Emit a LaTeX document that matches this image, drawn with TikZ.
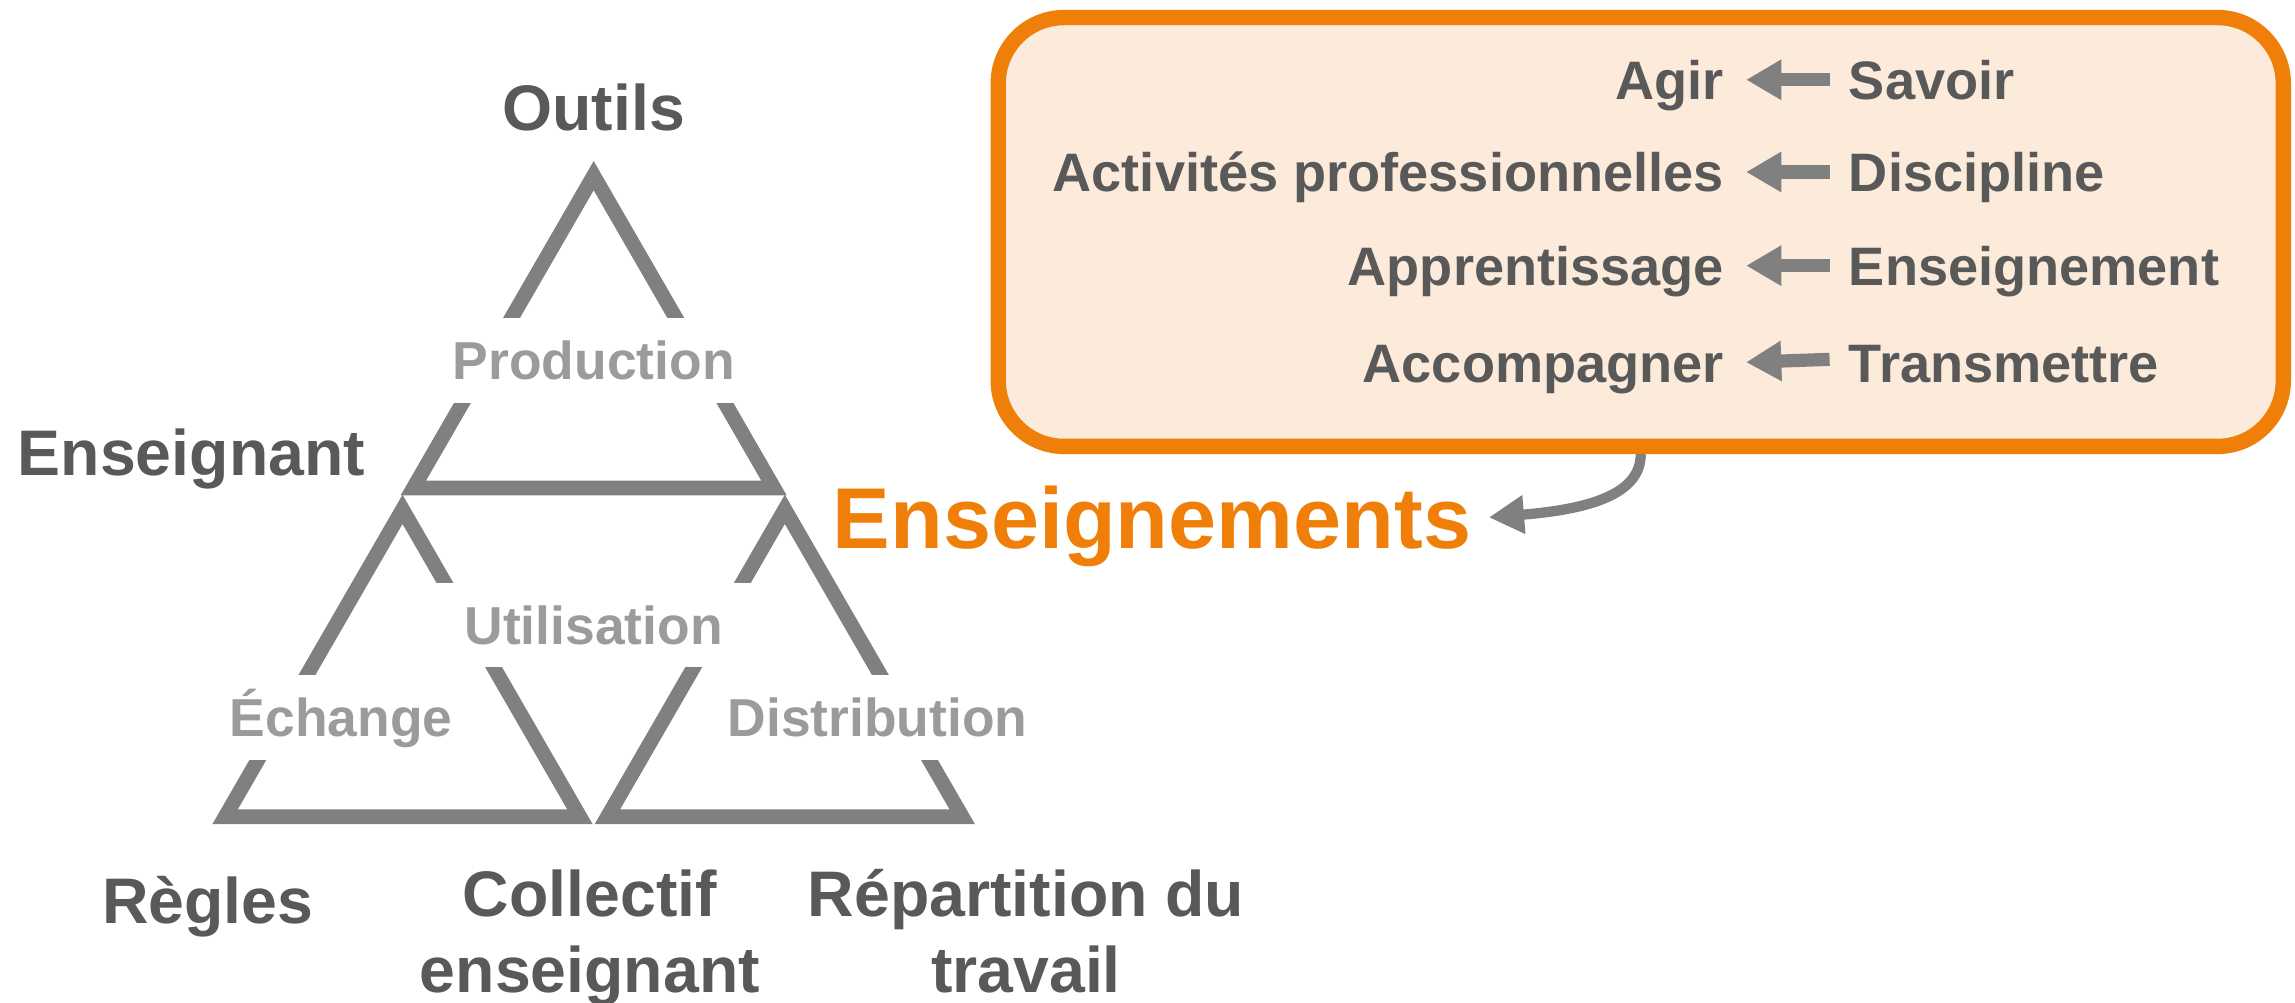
\documentclass[tikz,border=0pt]{standalone}
\usepackage{fontspec}
\setmainfont{Liberation Sans}
\usetikzlibrary{arrows.meta}
\definecolor{dk}{RGB}{89,89,89}
\definecolor{lg}{RGB}{155,155,155}
\definecolor{ln}{RGB}{128,128,128}
\definecolor{org}{RGB}{240,127,10}
\definecolor{bx}{RGB}{252,234,218}
\begin{document}
\begin{tikzpicture}[x=1pt,y=-1pt,
  tri/.style={draw=ln,line width=10pt,line join=miter},
  dlabel/.style={text=dk,font=\bfseries\fontsize{44}{52}\selectfont,inner sep=0pt,align=center},
  glabel/.style={text=lg,fill=white,font=\bfseries\fontsize{36.5}{40}\selectfont,inner xsep=20pt,inner ysep=16pt,text height=26pt,text depth=0pt,anchor=base},
  btext/.style={text=dk,font=\bfseries\fontsize{37}{40}\selectfont,inner sep=0pt,text height=27pt,text depth=0pt},
  barrow/.style={draw=ln,line width=9pt,-{Triangle[length=24pt,width=26pt]}},
  carrow/.style={draw=ln,line width=7pt,-{Triangle[length=24pt,width=25pt]}},
]
\useasboundingbox (0,0) rectangle (1568,685);

% triangles
\coordinate (tA) at (405.6,120);
\coordinate (tB) at (282.4,333.4);
\coordinate (tC) at (528.8,333.4);
\coordinate (lA) at (275,348);
\coordinate (lB) at (153.8,558);
\coordinate (lC) at (396.2,558);
\coordinate (rA) at (536.2,348);
\coordinate (rB) at (415,558);
\coordinate (rC) at (657.4,558);
\draw[tri] (tA) -- (tB) -- (tC) -- cycle;
\draw[tri] (lA) -- (lB) -- (lC) -- cycle;
\draw[tri] (rA) -- (rB) -- (rC) -- cycle;

% gray labels (knock out lines)
\node[glabel] (prod) at (405.6,259) {Production};
\node[glabel] (util) at (405.6,440) {Utilisation};
\node[glabel] (ech) at (233,503) {Échange};
\node[glabel,inner xsep=14pt] (dist) at (599.5,503) {Distribution};

% dark labels
\node[dlabel,anchor=base] (outils) at (405.6,89) {Outils};
\node[dlabel,anchor=base west] (ensg) at (12,325) {Enseignant};
\node[dlabel,anchor=base] (regles) at (142,631) {Règles};
\node[dlabel,anchor=base] (coll) at (403,678) {Collectif\\enseignant};
\node[dlabel,anchor=base] (rep) at (701,678) {Répartition du\\travail};

% orange label
\node[text=org,font=\bfseries\fontsize{59}{62}\selectfont,inner sep=0pt,text height=43pt,text depth=0pt,anchor=base] (ens) at (787,375) {Enseignements};

% box
\node[draw=org,line width=10.5pt,fill=bx,rounded corners=45pt,minimum width=878pt,minimum height=293pt,inner sep=0pt] (box) at (1121,158.5) {};

\node[btext,anchor=base east] (l1) at (1178,68) {Agir};
\node[btext,anchor=base east] (l2) at (1178,131) {Activités professionnelles};
\node[btext,anchor=base east] (l3) at (1178,195) {Apprentissage};
\node[btext,anchor=base east] (l4) at (1178,261) {Accompagner};
\node[btext,anchor=base west] (r1) at (1263,68) {Savoir};
\node[btext,anchor=base west] (r2) at (1263,131) {Discipline};
\node[btext,anchor=base west] (r3) at (1263,195) {Enseignement};
\node[btext,anchor=base west] (r4) at (1263,261) {Transmettre};

\draw[barrow] ([xshift=-13pt]r1.west) -- ([xshift=15pt]l1.east);
\draw[barrow] ([xshift=-13pt]r2.west) -- ([xshift=15pt]l2.east);
\draw[barrow] ([xshift=-13pt]r3.west) -- ([xshift=15pt]l3.east);
\draw[barrow] ([xshift=-13pt,yshift=2pt]r4.west) -- ([xshift=15pt]l4.east);

% curved arrow
\draw[carrow] (box.south) .. controls (1121,338) and (1085,348) .. ([xshift=12pt]ens.east);
\end{tikzpicture}
\end{document}
